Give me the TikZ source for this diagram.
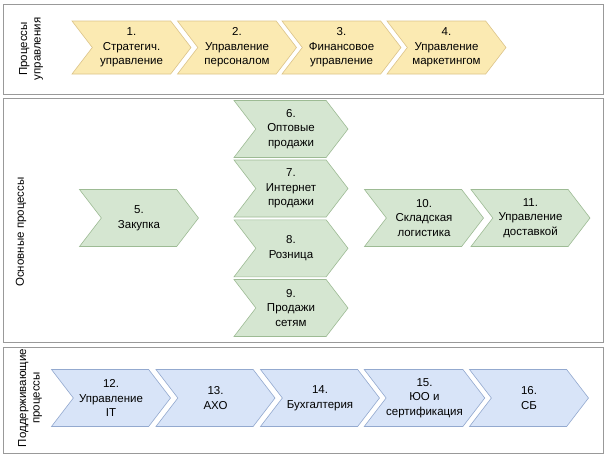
\documentclass[tikz,border=0pt]{standalone}
\usepackage{fontspec}
\setmainfont{Liberation Sans}
\usetikzlibrary{shapes.symbols, shadows}
\definecolor{YellowFill}{HTML}{FBEAB2}
\definecolor{YellowLine}{HTML}{DCC489}
\definecolor{GreenFill}{HTML}{D5E6D1}
\definecolor{GreenLine}{HTML}{9DBB94}
\definecolor{BlueFill}{HTML}{D8E4F8}
\definecolor{BlueLine}{HTML}{93A9CF}
\colorlet{PanelLine}{black!40}

\begin{document}
\begin{tikzpicture}[
    x=1pt, y=-1pt,
    proc/.style={
        signal, signal from=west, signal to=east,
        signal pointer angle=105, minimum width=119pt,
        minimum height=57pt, inner sep=0pt,
        draw=#1Line, fill=#1Fill, line width=0.6pt,
        font=\fontsize{11.5}{14.5}\selectfont, align=center
    },
    proc/.default={Green},
    panel/.style={
        draw=PanelLine, fill=white, line width=0.8pt,
        drop shadow={shadow xshift=1pt, shadow yshift=-1pt,
                     opacity=0.6, fill=black!60}
    },
    lane/.style={
        rotate=90, font=\fontsize{11.5}{13.5}\selectfont, align=center
    }
]
\useasboundingbox (0,0) rectangle (608,461);

% Panels
\draw[panel] (3,4) rectangle (603,94);
\draw[panel] (3,98) rectangle (603,342);
\draw[panel] (3,347) rectangle (603,453);

\node[lane] (lane1) at (31,49) {Процессы\\управления};
\node[lane] (lane2) at (21,232) {Основные процессы};
\node[lane] (lane3) at (30,398) {Поддерживающие\\процессы};

% --- Management processes ---
\node[proc=Yellow, minimum height=53pt] (p1) at (131.5,47.5)
    {1.\\Стратегич.\\управление};
\node[proc=Yellow, minimum height=53pt] (p2) at (237,47.5)
    {2.\\Управление\\персоналом};
\node[proc=Yellow, minimum height=53pt] (p3) at (341.5,47.5)
    {3.\\Финансовое\\управление};
\node[proc=Yellow, minimum height=53pt] (p4) at (446.5,47.5)
    {4.\\Управление\\маркетингом};

% --- Core processes ---
\node[proc] (p5) at (139,218) {5.\\Закупка};
\node[proc, minimum width=114pt] (p6) at (291,129)
    {6.\\Оптовые\\продажи};
\node[proc, minimum width=114pt] (p7) at (291,188.5)
    {7.\\Интернет\\продажи};
\node[proc, minimum width=114pt] (p8) at (291,248.3)
    {8.\\Розница};
\node[proc, minimum width=114pt] (p9) at (291,308)
    {9.\\Продажи\\сетям};
\node[proc] (p10) at (424,218) {10.\\Складская\\логистика};
\node[proc] (p11) at (530.5,218) {11.\\Управление\\доставкой};

% --- Supporting processes ---
\node[proc=Blue] (p12) at (111,398) {12.\\Управление\\IT};
\node[proc=Blue] (p13) at (215.5,398) {13.\\АХО};
\node[proc=Blue] (p14) at (320,398) {14.\\Бухгалтерия};
\node[proc=Blue] (p15) at (424.5,398) {15.\\ЮО и\\сертификация};
\node[proc=Blue] (p16) at (529,398) {16.\\СБ};

\end{tikzpicture}
\end{document}
